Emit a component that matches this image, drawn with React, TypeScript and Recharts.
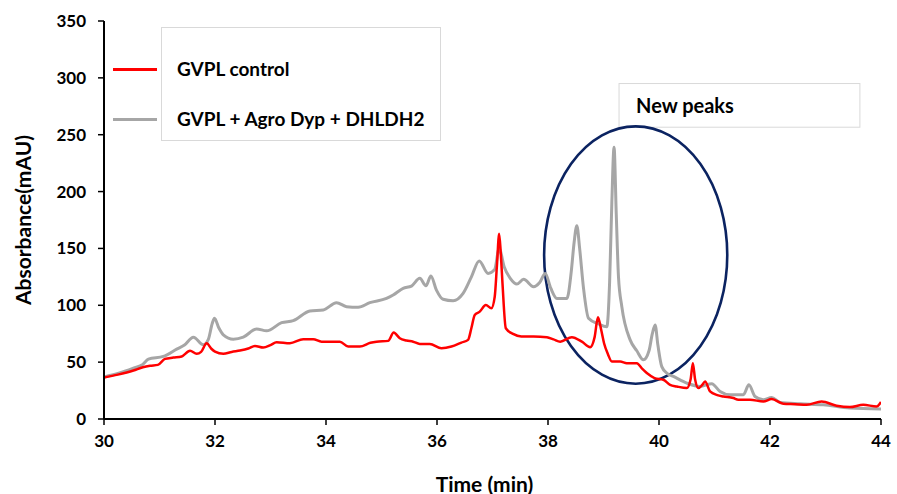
import React from 'react';
import { LineChart, Line, XAxis, YAxis, ReferenceArea } from 'recharts';

// Chromatogram traces: retention time (min) and absorbance (mAU)
const controlTime = [
  30.0, 30.25, 30.53, 30.7, 30.83, 30.97, 31.1, 31.25, 31.4, 31.55, 31.67, 31.75, 31.85, 31.93, 32.0,
  32.15, 32.3, 32.45, 32.6, 32.72, 32.87, 33.0, 33.11, 33.35, 33.59, 33.77, 33.92, 34.1, 34.25, 34.4,
  34.61, 34.8, 34.91, 35.12, 35.22, 35.33, 35.45, 35.57, 35.69, 35.87, 36.08, 36.26, 36.44, 36.56, 36.62,
  36.68, 36.77, 36.88, 36.98, 37.04, 37.08, 37.12, 37.15, 37.18, 37.24, 37.37, 37.52, 37.74, 37.98, 38.1,
  38.22, 38.43, 38.61, 38.76, 38.84, 38.9, 38.96, 39.01, 39.08, 39.15, 39.3, 39.42, 39.6, 39.7, 39.78,
  39.92, 40.08, 40.2, 40.32, 40.5, 40.57, 40.61, 40.65, 40.71, 40.78, 40.83, 40.92, 41.05, 41.16, 41.34,
  41.43, 41.64, 41.88, 42.03, 42.24, 42.45, 42.66, 42.93, 43.2, 43.44, 43.68, 43.92, 44.0,
];
const controlAbs = [
  36.5, 39, 42.6, 45.5, 46.8, 47.6, 52.9, 54, 55, 60, 57.3, 59, 66.6, 62, 59.3,
  57.3, 59, 60.2, 62, 64.3, 62.8, 65, 67.5, 66.6, 70.2, 70.2, 68, 68, 68, 63.7,
  63.7, 67, 68, 68.7, 76, 71, 69, 68, 66, 66, 62.3, 63.7, 67.2, 69.6, 80,
  91.5, 94.4, 100.3, 97.4, 107.5, 135, 163, 145, 119.3, 79.8, 74.8, 72.5, 72.5, 71.9, 70,
  68, 71.9, 68, 63.2, 72, 89.5, 78, 66.6, 57, 50.5, 50.5, 49.1, 49.1, 44, 40.4,
  36, 34.5, 30, 28.6, 27.2, 35, 49.1, 35, 27.2, 30, 33, 24.2, 21, 19.8, 18.4,
  16.9, 16.9, 15.4, 17.5, 13.4, 13, 12.5, 15.4, 11.7, 10.5, 12.5, 11, 15,
];

const treatedTime = [
  30.0, 30.25, 30.53, 30.7, 30.8, 31.07, 31.31, 31.45, 31.61, 31.79, 31.88, 31.95, 31.99, 32.07, 32.15,
  32.33, 32.51, 32.75, 32.93, 33.2, 33.41, 33.71, 33.95, 34.19, 34.37, 34.58, 34.79, 35.09, 35.21, 35.39,
  35.54, 35.69, 35.8, 35.89, 35.99, 36.11, 36.29, 36.47, 36.62, 36.76, 36.92, 37.04, 37.12, 37.21, 37.32,
  37.44, 37.56, 37.74, 37.85, 37.95, 38.05, 38.16, 38.34, 38.42, 38.47, 38.52, 38.57, 38.64, 38.73, 38.91,
  39.06, 39.11, 39.15, 39.19, 39.23, 39.27, 39.33, 39.48, 39.6, 39.72, 39.82, 39.88, 39.93, 39.98, 40.05,
  40.15, 40.26, 40.5, 40.74, 40.8, 40.95, 41.1, 41.28, 41.52, 41.62, 41.73, 41.88, 42.03, 42.18, 42.54,
  42.96, 43.44, 44.0,
];
const treatedAbs = [
  37, 40, 44.7, 48, 52.6, 55, 61.4, 65, 71.9, 65.2, 70, 84, 88.6, 80, 74,
  70.2, 72, 79.2, 77.5, 84.7, 86.5, 95, 95.9, 102.3, 98.8, 98.2, 102.3, 106, 109, 114.9,
  116.9, 123.7, 117.2, 125.7, 113.4, 105.3, 104, 110.5, 125, 139, 128, 131.6, 150, 133.9, 123.7,
  118.7, 122.8, 116.3, 120, 128, 115, 106, 106, 130, 155, 170, 150, 115, 88.6, 83.6,
  81.2, 120, 190, 239, 180, 125, 98.8, 69.6, 60, 52, 60, 75, 82.7, 65, 46.1,
  40, 37.4, 31.6, 28.6, 29.2, 31, 24.2, 21.3, 21.3, 30.1, 19.8, 16.9, 19, 14.6, 13.4,
  12.5, 9.6, 8.8,
];

const xTicks = [30, 32, 34, 36, 38, 40, 42, 44];
const yTicks = [0, 50, 100, 150, 200, 250, 300, 350];

const seriesNames = ['GVPL control', 'GVPL + Agro Dyp + DHLDH2'];
const seriesColors = ['#FF0000', '#A6A6A6'];

// Region of the new peaks (time span and absorbance span) and its caption box
const highlightTime = [37.93, 41.23];
const highlightAbs = [31, 257.3];
const captionTime = [39.28, 43.62];
const captionAbs = [256.6, 295];
const captionText = 'New peaks';

const controlData = controlTime.map((t, i) => ({ t, v: controlAbs[i] }));
const treatedData = treatedTime.map((t, i) => ({ t, v: treatedAbs[i] }));

const FONT = 'Lato, "Open Sans", sans-serif';

const tickStyle = { fontFamily: FONT, fontWeight: 700, fontSize: 17, fill: '#000' };
const titleStyle = { fontFamily: FONT, fontWeight: 700, fontSize: 21, fill: '#000' };

const EllipseShape = (props: any) => {
  const { x, y, width, height } = props;
  return (
    <ellipse
      cx={x + width / 2}
      cy={y + height / 2}
      rx={width / 2}
      ry={height / 2}
      fill="none"
      stroke="#0B2361"
      strokeWidth={2.6}
    />
  );
};

const CaptionShape = (props: any) => {
  const { x, y, width, height } = props;
  return (
    <g>
      <rect x={x} y={y} width={width} height={height} fill="#fff" stroke="#D9D9D9" strokeWidth={1} />
      <text
        x={x + 17}
        y={y + height / 2}
        dominantBaseline="central"
        style={{ fontFamily: FONT, fontWeight: 700, fontSize: 20, fill: '#000' }}
      >
        {captionText}
      </text>
    </g>
  );
};

// Legend: sample swatches sit to the left of a framed box holding the names
const LegendBox = () => (
  <div style={{ position: 'absolute', left: 113, top: 27, width: 340, height: 120, fontFamily: FONT }}>
    <div
      style={{
        position: 'absolute',
        left: 48,
        top: 0,
        width: 280,
        height: 114,
        border: '1px solid #D9D9D9',
        background: '#fff',
        boxSizing: 'border-box',
      }}
    />
    {seriesNames.map((name, i) => (
      <React.Fragment key={name}>
        <div
          style={{
            position: 'absolute',
            left: 0,
            top: 41 + i * 50,
            width: 44,
            height: 3,
            background: seriesColors[i],
          }}
        />
        <div
          style={{
            position: 'absolute',
            left: 64,
            top: 31 + i * 50,
            fontSize: 19,
            fontWeight: 700,
            color: '#000',
            whiteSpace: 'nowrap',
            lineHeight: '22px',
          }}
        >
          {name}
        </div>
      </React.Fragment>
    ))}
  </div>
);

export default function App() {
  return (
    <div style={{ position: 'absolute', left: 0, top: 0, width: 897, height: 494, background: '#fff' }}>
      <LineChart width={897} height={494} margin={{ top: 21, right: 16, bottom: 0, left: 0 }}>
        <XAxis
          dataKey="t"
          type="number"
          domain={[30, 44]}
          ticks={xTicks}
          allowDataOverflow
          height={75}
          tick={tickStyle}
          tickSize={6}
          tickMargin={10}
          axisLine={{ stroke: '#000', strokeWidth: 2 }}
          tickLine={{ stroke: '#000', strokeWidth: 1.5 }}
          label={(p: any) => {
            const vb = p.viewBox;
            return (
              <text
                x={vb.x + vb.width / 2 - 8}
                y={vb.y + 64}
                textAnchor="middle"
                dominantBaseline="central"
                style={titleStyle}
              >
                Time (min)
              </text>
            );
          }}
        />
        <YAxis
          dataKey="v"
          type="number"
          domain={[0, 350]}
          ticks={yTicks}
          width={104}
          tick={tickStyle}
          tickSize={6}
          tickMargin={12}
          axisLine={{ stroke: '#000', strokeWidth: 2 }}
          tickLine={{ stroke: '#000', strokeWidth: 1.5 }}
          label={(p: any) => {
            const vb = p.viewBox;
            const cx = vb.x + 22;
            const cy = vb.y + vb.height / 2;
            return (
              <text
                x={cx}
                y={cy}
                textAnchor="middle"
                dominantBaseline="central"
                transform={`rotate(-90, ${cx}, ${cy})`}
                style={titleStyle}
              >
                Absorbance(mAU)
              </text>
            );
          }}
        />
        <Line
          data={treatedData}
          dataKey="v"
          name={seriesNames[1]}
          type="monotone"
          stroke={seriesColors[1]}
          strokeWidth={3}
          dot={false}
          isAnimationActive={false}
        />
        <Line
          data={controlData}
          dataKey="v"
          name={seriesNames[0]}
          type="monotone"
          stroke={seriesColors[0]}
          strokeWidth={2.5}
          dot={false}
          isAnimationActive={false}
        />
        <ReferenceArea
          x1={captionTime[0]}
          x2={captionTime[1]}
          y1={captionAbs[0]}
          y2={captionAbs[1]}
          shape={CaptionShape}
        />
        <ReferenceArea
          x1={highlightTime[0]}
          x2={highlightTime[1]}
          y1={highlightAbs[0]}
          y2={highlightAbs[1]}
          shape={EllipseShape}
        />
      </LineChart>
      <LegendBox />
    </div>
  );
}
